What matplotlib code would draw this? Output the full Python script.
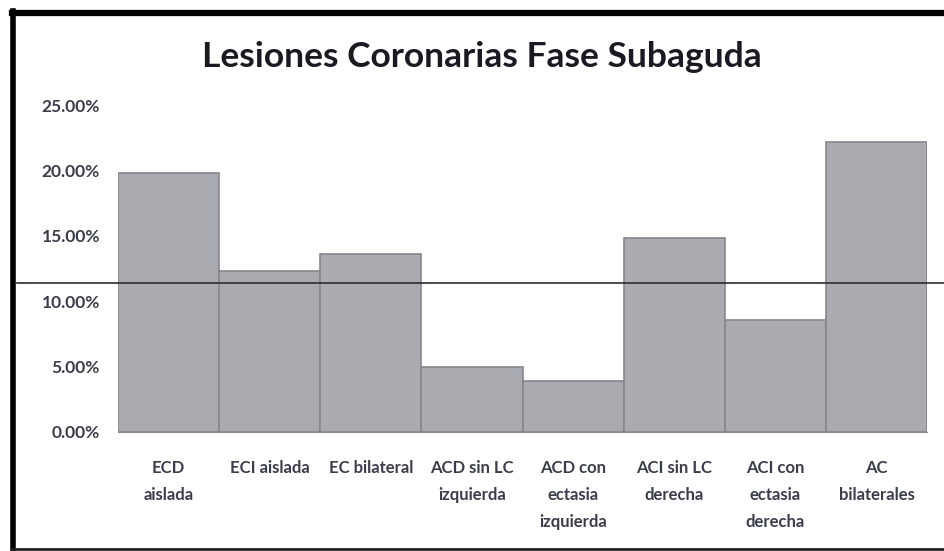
import matplotlib.pyplot as plt
from matplotlib.lines import Line2D
from matplotlib.ticker import FuncFormatter

# data
categories = ['ECD\naislada', 'ECI aislada', 'EC bilateral', 'ACD sin LC\nizquierda',
              'ACD con\nectasia\nizquierda', 'ACI sin LC\nderecha', 'ACI con\nectasia\nderecha',
              'AC\nbilaterales']
values = [19.8, 12.3, 13.6, 5.0, 3.9, 14.8, 8.6, 22.2]
ref_line = 11.4
yticks = [0, 5, 10, 15, 20, 25]

plt.rcParams['font.family'] = ['Lato', 'DejaVu Sans']

W, H = 945, 551
fig = plt.figure(figsize=(W / 100, H / 100), dpi=100)
# axes placed in pixel terms: x 118..927, y(0%)=432, y(25%)=105
ax = fig.add_axes([118 / W, 1 - 432 / H, (927 - 118) / W, (432 - 105) / H])

x = list(range(len(values)))
ax.bar(x, values, width=1.0, color='#a9abb1', edgecolor='#85878d', linewidth=1.2)

ax.set_xlim(-0.5, len(values) - 0.5)
ax.set_ylim(0, 25)
ax.set_yticks(yticks)
ax.yaxis.set_major_formatter(FuncFormatter(lambda v, p: f'{v:.2f}%'))
ax.set_xticks(x)
ax.set_xticklabels(categories, fontsize=12, fontweight='bold', color='#3a3d4a',
                   linespacing=1.85, va='top')
for lab in ax.get_yticklabels():
    lab.set_fontsize(12.5)
    lab.set_fontweight('bold')
    lab.set_color('#3a3d4a')
ax.tick_params(axis='y', length=0, pad=13)
ax.tick_params(axis='x', length=0, pad=20)
for s in ['top', 'right', 'left']:
    ax.spines[s].set_visible(False)
ax.spines['bottom'].set_color('#8a8c92')

# average line spanning nearly the whole figure
ax.axhline(ref_line, xmin=(17 - 118) / 809, xmax=(945 - 118) / 809,
           color='#2b2d33', linewidth=1.2, clip_on=False)

fig.text(482 / W, 1 - 57 / H, 'Lesiones Coronarias Fase Subaguda',
         ha='center', va='center', fontsize=25.5, fontweight='bold', color='#1a1a22')

# black frame (right side cut off in the original)
fig.add_artist(Line2D([12 / W, 1], [1 - 13 / H, 1 - 13 / H], color='black', lw=4.5))
fig.add_artist(Line2D([13 / W, 13 / W], [1 - 11 / H, 0], color='black', lw=4))
fig.add_artist(Line2D([12 / W, 1], [1 - 549 / H, 1 - 549 / H], color='#222222', lw=2))

fig.savefig('out.png', dpi=100)
